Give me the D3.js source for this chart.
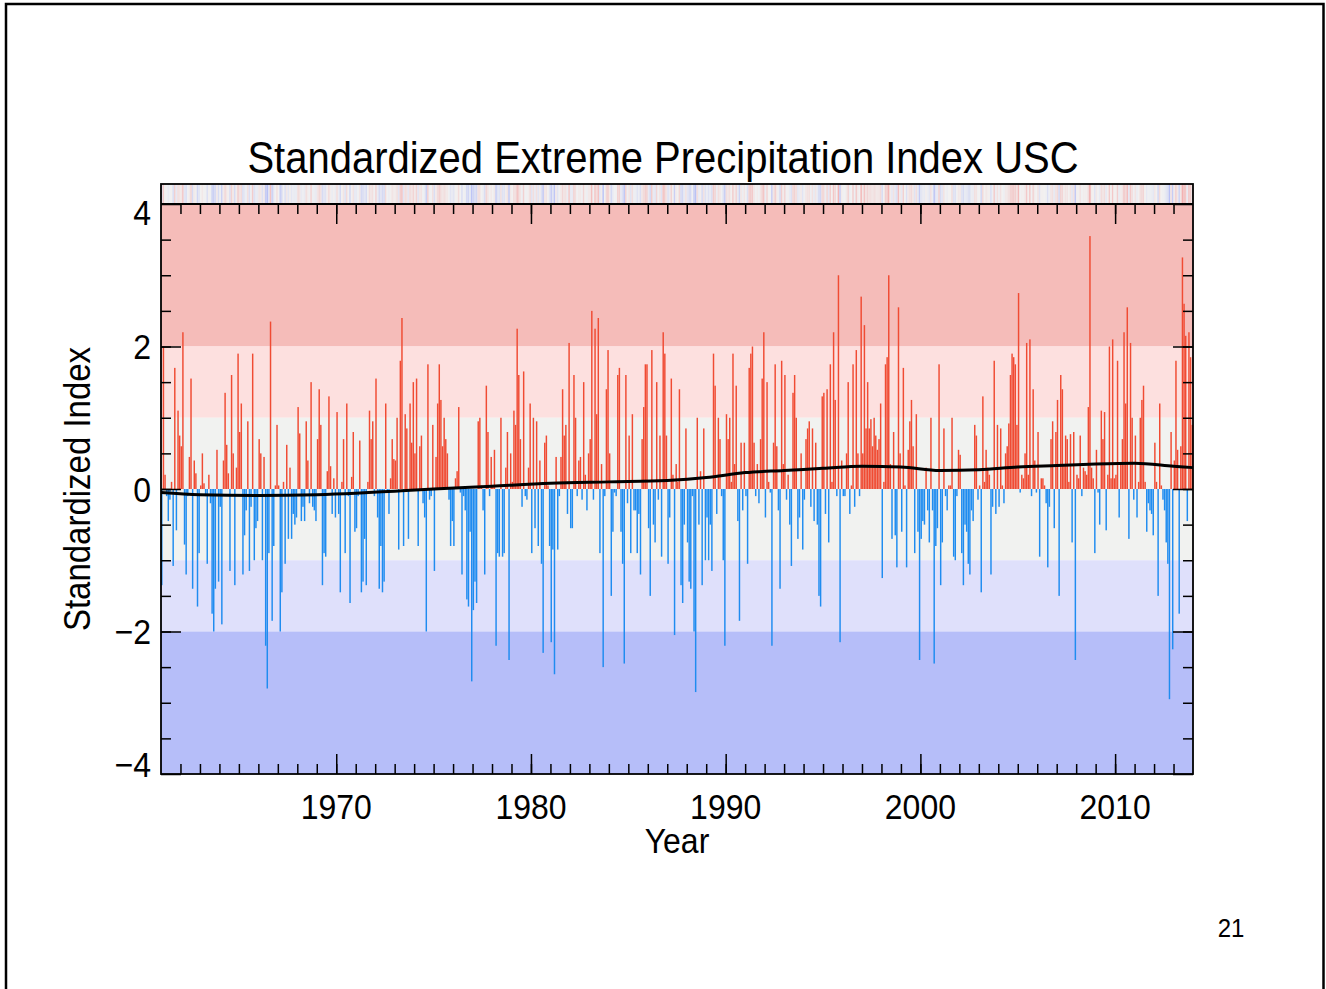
<!DOCTYPE html>
<html>
<head>
<meta charset="utf-8">
<script src="https://cdn.jsdelivr.net/npm/d3@7"></script>
<style>
  body { margin: 0; background: #fff; }
  svg { display: block; }
  text { font-family: "Liberation Sans", Arial, Helvetica, sans-serif; fill: #000; }
</style>
</head>
<body>
<svg id="chart" width="1326" height="989"></svg>
<script>
// Monthly standardized extreme precipitation index, USC region, Jan 1961 onward
const index1961to1967 = [
  -1.35, 2.0, 0.2, -0.1, -0.45, -0.15, 0.1, -1.08, 1.7, -0.58,
  1.1, 0.75, 0.6, 2.2, -0.78, -1.2, -0.1, 0.45, 1.55, -1.4,
  0.4, 0.22, -1.65, -0.9, 0.05, 0.5, 0.08, -0.1, -1.05, 0.2,
  -0.2, -1.75, -2.0, -1.4, 0.55, -1.3, -0.25, -1.9, 0.4, 1.35,
  0.62, 0.22, -1.15, 1.6, 0.5, -1.35, 0.3, 1.9, 0.8, 1.2,
  -1.2, -0.65, -0.3, 0.95, -1.15, -0.25, 1.9, -1.0, -0.55, -0.45,
  0.7, 0.5, -1.0, 0.45, -2.2, -2.8, -0.9, 2.35, -1.85, -0.8,
  0.05, 0.9, 0.05, -2.0, -1.45, 0.1, -1.05, 0.62, -0.7, 0.3
];
const index1967to1974 = [
  -0.7, -0.35, -0.5, -0.4, 1.15, 0.78, -0.45, -0.25, -0.45, 0.95,
  0.4, -0.2, 1.5, -0.25, -0.3, -0.45, 0.7, 1.4, 0.9, -1.35,
  -0.9, -0.95, 0.25, 1.3, 0.32, -0.35, 0.15, -0.4, 1.08, -0.35,
  -1.45, 0.1, 0.7, -0.9, 1.2, -0.1, -1.6, 0.17, 0.8, -0.6,
  -0.55, -0.1, 0.68, -1.45, -1.3, -0.7, -1.35, 0.1, 1.1, 0.7,
  0.95, -0.1, 1.55, -0.4, -1.4, -0.8, -1.45, -1.3, 1.2, -0.05,
  -0.35, 0.15, 0.7, 0.42, 0.4, 1.0, -0.85, 1.8, 2.4, -0.8,
  1.05, 0.85, -0.7, 1.2, 0.65, 1.5, 0.5, 1.55, -0.8, 0.6
];
const index1974to1980 = [
  0.75, -0.2, -0.4, -2.0, 1.75, -0.15, -0.1, 0.9, -1.15, 0.45,
  1.2, 1.75, 1.25, 0.6, 1.0, 0.7, 0.5, -0.15, -0.8, -0.45,
  -0.8, 0.15, 0.25, 1.15, -0.05, -1.2, -0.1, -0.3, -1.55, -1.65,
  -0.6, -2.7, -1.7, -1.3, -1.6, 0.95, 1.0, 0.05, -0.3, -1.2,
  1.45, 0.8, -0.1, 0.45, 0.05, 0.55, -2.2, -0.9, -0.95, 1.0,
  -0.95, -0.9, 0.3, 0.8, -2.4, 0.5, 0.1, 1.1, 0.9, 2.25,
  1.6, 0.7, -0.25, 1.65, -0.1, -0.15, 0.3, 1.2, -0.9, 1.0,
  -0.55, 0.95, -0.8, 0.4, -1.05, -2.3, 0.65, 0.75, 0.05, -0.8
];
const index1981to1987 = [
  -2.15, -0.85, -2.6, 0.45, -0.85, -0.1, 0.45, 1.4, 0.75, 0.9,
  -0.35, 2.05, -0.55, -0.55, 1.6, 1.0, -0.1, 0.4, 0.45, -0.15,
  1.5, 0.2, -0.3, 0.5, 0.7, 2.5, -0.15, 2.25, 1.05, 2.4,
  -0.9, 0.35, -2.5, -0.1, 1.4, 1.95, 0.5, -1.5, -0.6, -0.05,
  -0.1, 1.6, 1.7, -0.6, -1.05, -2.45, 1.6, -0.2, 0.75, -0.9,
  1.05, -0.3, -0.3, -0.9, -0.35, -1.2, 0.7, 1.15, 1.75, 1.75,
  -0.55, -1.5, 1.95, -0.5, -0.75, 1.5, -0.15, 0.75, -0.95, 2.2,
  1.9, 0.75, -1.05, -0.4, 1.55, 0.2, -2.05, 0.35, 0.1, 1.4
];
const index1987to1994 = [
  -1.35, -1.6, -0.5, 0.85, -0.75, -1.3, -1.4, -0.1, -2.0, -2.85,
  1.0, -0.5, 0.25, -1.35, 0.85, -1.0, -0.4, -1.0, -0.5, -1.15,
  1.9, 1.45, -0.35, 1.0, 0.7, -0.1, -1.0, -2.2, 1.05, 0.7,
  1.0, 0.1, 1.9, 0.35, 1.45, -0.45, -1.85, 0.65, -0.3, 0.65,
  -0.1, -1.05, 1.7, 1.9, 2.0, 0.65, -0.1, 0.35, -0.2, 0.7,
  1.55, 2.2, -0.4, 1.5, 0.1, -0.05, -2.2, 0.65, 1.75, 0.6,
  -0.3, -1.4, 1.8, 0.35, 1.6, -0.15, 0.2, -0.5, -1.08, 1.35,
  1.6, 1.0, -0.7, -0.4, 0.5, -0.85, -0.15, 0.7, 0.85, 0.95
];
const index1994to2000 = [
  -0.25, 0.85, -0.45, 0.65, -0.5, -1.5, -1.65, 1.3, 1.35, -0.35,
  1.4, -0.75, 1.75, 0.1, 2.2, 1.25, -0.1, 3.0, -2.15, 0.4,
  -0.1, -0.1, 0.5, 1.5, -0.35, 0.05, 1.75, -0.25, 1.95, 0.5,
  -0.1, 2.7, 0.5, 2.3, 0.85, 1.5, 0.85, 0.98, 0.6, 1.0,
  0.75, 0.55, 0.7, 1.2, -1.25, 0.1, 1.75, 1.85, 3.0, 0.35,
  -0.7, 0.8, -0.65, -1.1, 2.55, 0.5, -0.6, 1.7, 0.05, -1.1,
  0.55, 0.95, 1.25, 0.6, -0.9, 1.05, -0.6, -2.4, -0.7, -0.45,
  -0.5, 0.3, -0.3, -0.75, 1.0, -0.3, -2.45, -0.8, -0.55, 1.75
];
const index2001to2007 = [
  -1.35, -0.75, 0.85, -0.1, -0.3, 0.05, 0.05, 1.0, -0.95, -1.0,
  -0.1, 0.55, 0.48, -0.9, -1.35, -0.5, -0.6, -1.05, -1.2, -0.3,
  -0.45, 0.9, 0.75, -0.15, 0.05, -1.45, 1.3, 0.1, 0.55, 0.3,
  0.2, -1.2, -0.25, 1.8, -0.35, 0.9, -0.25, 0.85, 0.05, -0.2,
  0.5, 0.6, 0.92, 1.6, 1.9, 1.85, 1.75, 0.9, 2.75, -0.05,
  0.2, 0.15, 0.5, 2.05, 0.2, 2.1, -0.1, 1.4, 0.4, -0.05,
  0.8, -0.95, 0.15, 0.15, 0.05, -0.2, -1.1, -0.25, 0.7, 0.95,
  -0.55, 0.8, 1.25, -1.5, 1.6, 1.4, 0.35, 0.75, 0.7, 0.1
];
const index2007to2013 = [
  0.77, -0.75, 0.8, -2.4, 0.2, 0.15, 0.75, -0.1, 0.3, 0.25,
  0.2, 1.15, 3.55, 0.3, 0.15, -0.9, 0.55, -0.05, -0.5, 1.1,
  0.7, 1.08, -0.58, 0.2, 2.0, 0.15, 2.1, 0.15, 0.2, 1.8,
  -0.4, 0.35, 0.7, 2.2, 1.2, 2.55, -0.7, 2.05, 1.0, -0.15,
  0.75, -0.4, 0.1, 1.0, 1.25, 1.45, 0.1, -0.6, -0.2, -0.3,
  -0.35, -0.65, 0.65, 0.1, -1.5, 1.2, 0.05, -0.15, -0.3, -0.75,
  -1.05, -2.95, 0.8, -2.25, 0.4, 1.8, 0.55, -1.75, 0.6, 3.25,
  2.6, 2.15, -0.45, 2.2, 1.85, 0.9
];

// Smoothed long-term curve (year, index)
const trendYears  = [1961, 1963, 1966, 1969, 1971, 1973, 1975, 1978, 1981, 1984, 1987, 1989, 1991, 1993, 1995, 1997, 1999, 2001, 2003, 2005, 2007, 2009, 2011, 2013, 2014];
const trendValues = [-0.05, -0.08, -0.09, -0.08, -0.06, -0.03, 0.0, 0.04, 0.08, 0.1, 0.12, 0.16, 0.23, 0.26, 0.29, 0.32, 0.31, 0.26, 0.27, 0.31, 0.33, 0.35, 0.36, 0.32, 0.30];

// Axis ticks and shaded category limits
const yTickValues   = [-4, -2, 0, 2, 4];
const yMinorValues  = d3.range(-3.5, 4, 0.5);
const decadeTicks   = [1970, 1980, 1990, 2000, 2010];
const bandLimits    = [[2, 4], [1, 2], [0, 1], [-1, 0], [-2, -1], [-4, -2]];
const bandColors    = ["#f5bcb9", "#fde0df", "#f1f2f0", "#f1f2f0", "#dfe0fb", "#b6bef9"];

const values = [].concat(index1961to1967, index1967to1974, index1974to1980, index1981to1987,
                         index1987to1994, index1994to2000, index2001to2007, index2007to2013);
const startYear = 1961, endYear = 2014;

const svg = d3.select("#chart");
const W = 1326, H = 989;
const plot = { left: 161, right: 1193, top: 204, bottom: 774, stripTop: 184 };
const yStretch = 1.1;

const x = d3.scaleLinear().domain([startYear, endYear]).range([plot.left, plot.right]);
const y = d3.scaleLinear().domain([-4, 4]).range([plot.bottom, plot.top]);
const monthW = x(startYear + 1 / 12) - x(startYear);
const monthX = i => x(startYear + i / 12);

// Slide frame
svg.append("rect")
  .attr("x", 6).attr("y", 4).attr("width", W - 8.5).attr("height", H + 10)
  .attr("fill", "none").attr("stroke", "#000").attr("stroke-width", 2.5);

// Category bands
svg.append("g").selectAll("rect").data(bandLimits).join("rect")
  .attr("x", plot.left).attr("width", plot.right - plot.left)
  .attr("y", d => y(d[1])).attr("height", d => y(d[0]) - y(d[1]))
  .attr("fill", (d, i) => bandColors[i]);

// Colour strip above the plot
svg.append("rect")
  .attr("x", plot.left).attr("y", plot.stripTop)
  .attr("width", plot.right - plot.left).attr("height", plot.top - plot.stripTop)
  .attr("fill", "#f2f2f2");
const stripRed = d3.interpolateRgb("#f2f2f2", "#f3a2a2");
const stripBlue = d3.interpolateRgb("#f2f2f2", "#a3aef6");
svg.append("g").selectAll("rect").data(values).join("rect")
  .attr("x", (d, i) => monthX(i)).attr("width", monthW)
  .attr("y", plot.stripTop).attr("height", plot.top - plot.stripTop)
  .attr("fill", d => d >= 0 ? stripRed(Math.min(1, d / 4)) : stripBlue(Math.min(1, -d / 4)));

// Monthly bars
svg.append("g").selectAll("rect").data(values).join("rect")
  .attr("x", (d, i) => monthX(i) + monthW * 0.05)
  .attr("width", monthW * 0.9)
  .attr("y", d => y(Math.max(0, d)))
  .attr("height", d => Math.abs(y(d) - y(0)))
  .attr("fill", d => d >= 0 ? "#f04b33" : "#1f8cf0");

// Smoothed curve
const trend = trendYears.map((yr, i) => [yr, trendValues[i]]);
svg.append("path")
  .datum(trend)
  .attr("d", d3.line().x(d => x(d[0])).y(d => y(d[1])).curve(d3.curveMonotoneX))
  .attr("fill", "none").attr("stroke", "#000").attr("stroke-width", 3);

// Axes
const years = d3.range(startYear + 1, endYear);
const axisStyle = g => {
  g.select(".domain").remove();
  g.selectAll(".tick line").attr("stroke", "#000").attr("stroke-width", 1.5);
};
svg.append("g").attr("transform", `translate(0,${plot.bottom})`)
  .call(d3.axisBottom(x).tickValues(years).tickSize(-10).tickFormat(""))
  .call(axisStyle);
svg.append("g").attr("transform", `translate(0,${plot.top})`)
  .call(d3.axisTop(x).tickValues(years).tickSize(-10).tickFormat(""))
  .call(axisStyle);
svg.append("g").attr("transform", `translate(0,${plot.bottom})`)
  .call(d3.axisBottom(x).tickValues(decadeTicks).tickSize(-20).tickFormat(""))
  .call(axisStyle);
svg.append("g").attr("transform", `translate(0,${plot.top})`)
  .call(d3.axisTop(x).tickValues(decadeTicks).tickSize(-20).tickFormat(""))
  .call(axisStyle);
svg.append("g").attr("transform", `translate(${plot.left},0)`)
  .call(d3.axisLeft(y).tickValues(yMinorValues).tickSize(-10).tickFormat(""))
  .call(axisStyle);
svg.append("g").attr("transform", `translate(${plot.right},0)`)
  .call(d3.axisRight(y).tickValues(yMinorValues).tickSize(-10).tickFormat(""))
  .call(axisStyle);
svg.append("g").attr("transform", `translate(${plot.left},0)`)
  .call(d3.axisLeft(y).tickValues(yTickValues).tickSize(-20).tickFormat(""))
  .call(axisStyle);
svg.append("g").attr("transform", `translate(${plot.right},0)`)
  .call(d3.axisRight(y).tickValues(yTickValues).tickSize(-20).tickFormat(""))
  .call(axisStyle);

// Plot frame (data area plus strip)
svg.append("rect")
  .attr("x", plot.left).attr("y", plot.stripTop)
  .attr("width", plot.right - plot.left).attr("height", plot.bottom - plot.stripTop)
  .attr("fill", "none").attr("stroke", "#000").attr("stroke-width", 1.8);
svg.append("line")
  .attr("x1", plot.left).attr("x2", plot.right).attr("y1", plot.top).attr("y2", plot.top)
  .attr("stroke", "#000").attr("stroke-width", 1.8);

// Text helper: slightly taller glyphs
function label(str, px, py, size, anchor, rotate) {
  return svg.append("text")
    .attr("text-anchor", anchor)
    .attr("font-size", size)
    .attr("transform", `translate(${px},${py})` + (rotate ? ` rotate(${rotate})` : "") + ` scale(1,${yStretch})`)
    .text(str);
}

// Y tick labels (end labels pulled inside the range)
const fmt = d3.format("d");
yTickValues.forEach(v => {
  const shift = v === 4 ? 8 : v === -4 ? -10 : 0;
  label(fmt(v), 151, y(v) + shift + 12.5, 32, "end");
});

// X tick labels
decadeTicks.forEach(v => label(String(v), x(v), 819, 32, "middle"));

label("Year", 677, 853, 32, "middle");
label("Standardized Index", 90, 489, 33, "middle", -90);
label("Standardized Extreme Precipitation Index USC", 663, 173, 40, "middle");
label("21", 1231, 937, 24, "middle");
</script>
</body>
</html>
